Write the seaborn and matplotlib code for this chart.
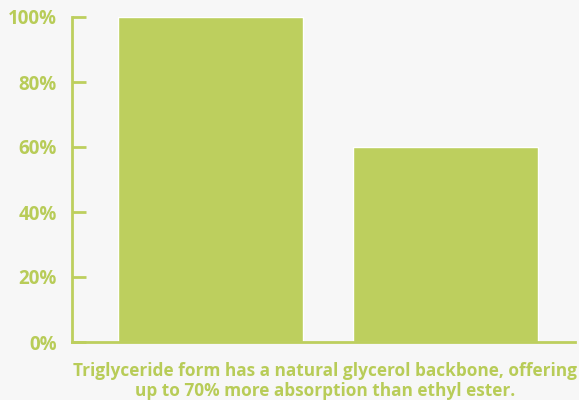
import pandas as pd
import numpy as np
import matplotlib.pyplot as plt
import seaborn as sns

forms = ["Triglyceride", "Ethyl ester"]
absorption = [100, 60]
yticks = [0, 20, 40, 60, 80, 100]
caption = ("Triglyceride form has a natural glycerol backbone, offering\n"
           "up to 70% more absorption than ethyl ester.")

green = "#bdcf5e"
text_green = "#b8cc58"

sns.set_style("white")
plt.rcParams["font.family"] = ["Open Sans", "DejaVu Sans"]

data = pd.DataFrame({"form": forms, "absorption": absorption})

fig = plt.figure(figsize=(5.79, 4.0), dpi=100, facecolor="#f7f7f7")
ax = fig.add_axes([0.124, 0.145, 0.869, 0.8125])
ax.set_facecolor("#f7f7f7")

sns.barplot(data=data, x="form", y="absorption", color=green,
            saturation=1, width=0.786, ax=ax)

ax.set_xlim(-0.588, 1.548)
ax.set_ylim(0, 100)
ax.set_yticks(yticks)
ax.set_yticklabels([f"{v}%" for v in yticks], fontsize=13.5,
                   fontweight="bold", color=text_green)
ax.set_xticks([])
ax.set_xlabel("")
ax.set_ylabel("")
ax.tick_params(axis="y", left=True, direction="in", length=10, width=2,
               color=green, pad=11)

for side in ["top", "right"]:
    ax.spines[side].set_visible(False)
for side in ["left", "bottom"]:
    ax.spines[side].set_color(green)
    ax.spines[side].set_linewidth(2)
    ax.spines[side].set_visible(True)

fig.text(0.562, 0.048, caption, ha="center", va="center", fontsize=12.4,
         fontweight="bold", color=text_green, linespacing=1.1)

fig.savefig("out.png", dpi=100, facecolor=fig.get_facecolor())
